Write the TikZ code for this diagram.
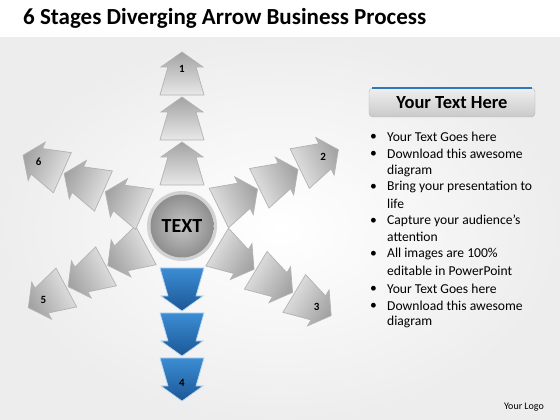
\documentclass[tikz,border=0pt]{standalone}
\usepackage{fontspec}
\setmainfont{Carlito}
\usepackage{tikz}
\usetikzlibrary{positioning}
\definecolor{bluetip}{HTML}{1B5796}
\definecolor{bluebase}{HTML}{3C8DD4}
\definecolor{bandblue}{HTML}{2F78BA}
\tikzset{style={font=\fontsize{13.6}{16}\selectfont}}

\begin{document}
\begin{tikzpicture}[x=1pt,y=1pt,
    piece/.style={draw=gray!60,line width=.7pt,top color=gray!72,bottom color=gray!18},
    bluepiece/.style={draw=bluebase!35!white,line width=.7pt,top color=bluetip,bottom color=bluebase},
    stagenum/.style={font=\fontsize{11}{11}\selectfont\bfseries,inner sep=0pt},
    bullet/.style={anchor=west,inner sep=0pt}]
  \useasboundingbox (0,0) rectangle (560,420);
  \shade[inner color=white,outer color=gray!14] (0,0) rectangle (560,383);
  \fill[white] (0,383) rectangle (560,420);
  \node[anchor=west,inner sep=0pt,font=\fontsize{23}{23}\selectfont\bfseries] (title) at (23,402)
    {6 Stages Diverging Arrow Business Process};
  \coordinate (hub) at (182,194);
  \foreach \a/\n [evaluate=\a as \s using \a-90] in {90/1,26/2,-31/3,208/5,156/6}{
    \foreach \k in {0,1,2}
      \path[piece,shading angle=\s,shift={(hub)},rotate=\a,xshift=41+45*\k]
        (0,-22) -- (28,-14) -- (28,-21) -- (43,0) -- (28,21) -- (28,14) -- (0,22) -- cycle;
    \path (hub) ++(\a:157) node[stagenum] (n\n) {\n};
  }
  \foreach \k in {0,1,2}
    \path[bluepiece,shading angle=180,shift={(hub)},rotate=-90,xshift=42+45*\k]
      (0,-22) -- (28,-14) -- (28,-21) -- (43,0) -- (28,21) -- (28,14) -- (0,22) -- cycle;
  \path (hub) ++(-90:157) node[stagenum] (n4) {4};
  \fill[gray!35] (hub) circle (35);
  \node[circle,minimum size=63,inner color=gray!45,outer color=gray!88,
    font=\fontsize{20}{20}\selectfont\bfseries] (hubtext) at (hub) {TEXT};
  \node[draw=gray!60,rounded corners=4,minimum width=166,minimum height=29,
    top color=gray!12,bottom color=gray!42,font=\fontsize{18.5}{18.5}\selectfont\bfseries]
    (head) at (452,317.5) {Your Text Here};
  \draw[bandblue,line width=2.5pt] ([xshift=3]head.north west) -- ([xshift=-3]head.north east);
  \foreach \t/\y in {Your Text Goes here/137,Download this awesome/154,diagram/171,
      Bring your presentation to/187,life/204,Capture your audience’s/221,attention/237,
      All images are 100\%/254,editable in PowerPoint/271,Your Text Goes here/289,
      Download this awesome/306,diagram/322}
    \node[bullet] (line\y) at (387,420-\y) {\t};
  \foreach \y in {137,154,187,221,254,289,306}
    \node[bullet] (dot\y) at (370,420-\y) {\textbullet};
  \node[font=\fontsize{10}{10}\selectfont] (logo) at (524,13) {Your Logo};
\end{tikzpicture}
\end{document}
